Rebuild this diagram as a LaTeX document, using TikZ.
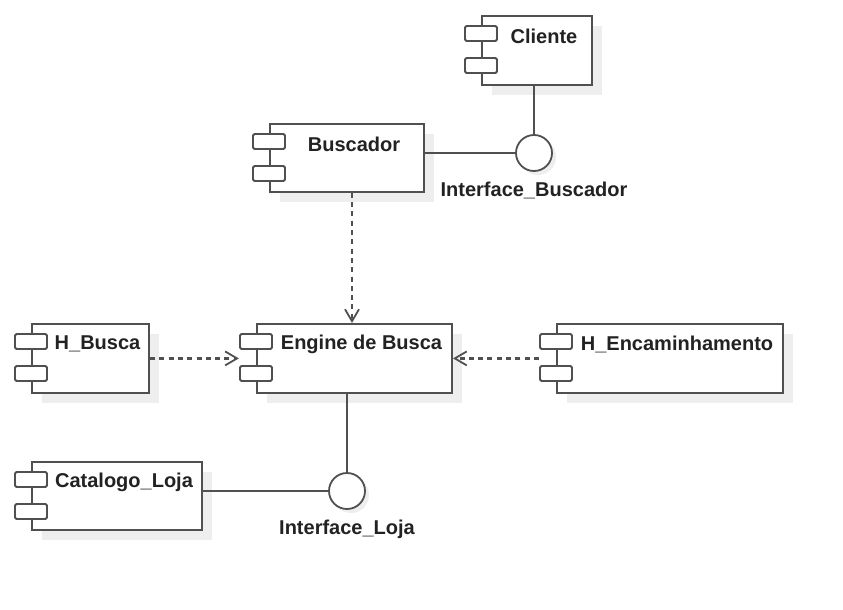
\documentclass[tikz,border=0pt]{standalone}
\usepackage{fontspec}
\setmainfont{Liberation Sans}
\usetikzlibrary{fit,arrows.meta}
\definecolor{linec}{HTML}{505050}
\definecolor{shadowc}{HTML}{EEEEEE}
\definecolor{textc}{HTML}{222222}
\tikzset{
  body/.style={draw=linec, line width=1.8pt, fill=white, inner sep=0pt},
  port/.style={draw=linec, line width=1.8pt, fill=white, minimum width=32pt, minimum height=15pt, inner sep=0pt, rounded corners=1.5pt},
  lbl/.style={font=\bfseries\fontsize{20}{24}\selectfont, text=textc, inner sep=0pt},
  iface/.style={circle, draw=linec, line width=1.8pt, fill=white, minimum size=36pt, inner sep=0pt},
  ishadow/.style={circle, fill=shadowc, minimum size=36pt, inner sep=0pt},
  conn/.style={draw=linec, line width=1.8pt},
  dep/.style={draw=linec, line width=2.2pt, dash pattern=on 5pt off 4.3pt, -{Straight Barb[length=12pt,width=14pt,line width=1.8pt]}},
}
\newcommand\comp[6]{%
  \fill[shadowc] (#2+11,#3+11) rectangle (#4+11,#5+11);
  \node[body, anchor=north west, minimum width={(#4)-(#2)}, minimum height={(#5)-(#3)}] (#1-b) at (#2,#3) {};
  \node[port] (#1-p1) at (#2,#3+18.5) {};
  \node[port] (#1-p2) at (#2,#3+50.5) {};
  \node[fit=(#1-b)(#1-p1)(#1-p2), inner sep=0pt] (#1) {};
  \node[lbl] (#1-t) at ({(#2+16+#4)/2},#3+21) {#6};
}
\begin{document}
\begin{tikzpicture}[x=1pt,y=-1pt]
\useasboundingbox[fill=white] (0,0) rectangle (843,610);
% interfaces (shadows)
\node[ishadow] (ibs) at (538,157) {};
\node[ishadow] (ils) at (351,495) {};
% components
\comp{cli}{481}{15}{591}{84}{Cliente}
\comp{bus}{269}{123}{423}{191}{Buscador}
\comp{hb}{31}{323}{148}{392}{H\_Busca}
\comp{eng}{256}{323}{451}{392}{Engine de Busca}
\comp{hen}{556}{323}{782}{392}{H\_Encaminhamento}
\comp{cat}{31}{461}{201}{529}{Catalogo\_Loja}
% interfaces
\node[iface] (ib) at (534,153) {};
\node[iface] (il) at (347,491) {};
\node[lbl] (ibt) at (534,190) {Interface\_Buscador};
\node[lbl] (ilt) at (347,529) {Interface\_Loja};
% connectors
\draw[conn] (bus-b.east |- ib.west) -- (ib.west);
\draw[conn] (ib.north) -- (ib.north |- cli-b.south);
\draw[conn] (il.north) -- (il.north |- eng-b.south);
\draw[conn] (cat-b.east |- il.west) -- (il.west);
\draw[dep] (bus-b.south -| 352,0) -- (eng-b.north -| 352,0);
\draw[dep] (hb.east) -- (eng.west);
\draw[dep] (hen.west) -- (eng.east);
\end{tikzpicture}
\end{document}
